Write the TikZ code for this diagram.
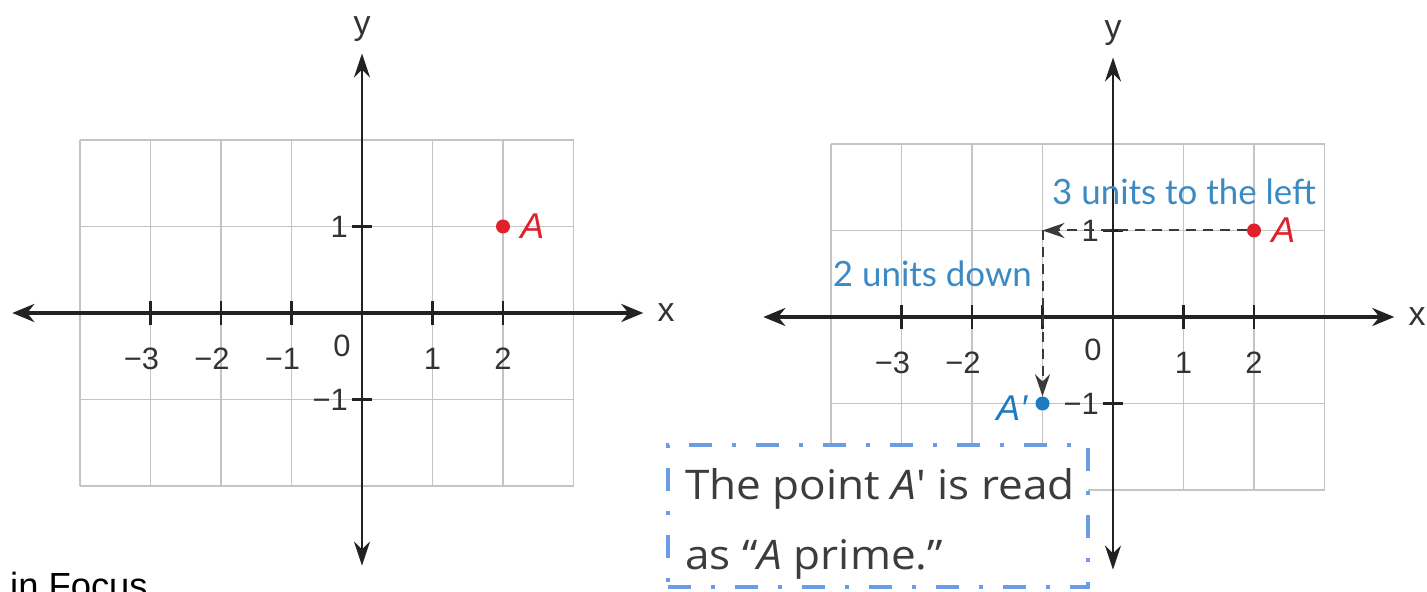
\documentclass[tikz,border=0pt]{standalone}
\usepackage{fontspec}
\setmainfont{Liberation Sans}
\newfontfamily\noteFont{Lato}
\newfontfamily\boxFont[FakeStretch=1.08]{Open Sans}
\usetikzlibrary{arrows.meta,positioning}

\begin{document}
\begin{tikzpicture}[x=1bp,y=1bp,
    gridline/.style={gridColour, line width=1.8bp},
    xaxisline/.style={axisColour, line width=3.5bp, {Stealth[length=22bp,width=18bp]}-{Stealth[length=22bp,width=18bp]}},
    yaxisline/.style={axisColour, line width=2.2bp, {Stealth[length=24bp,width=16bp]}-{Stealth[length=24bp,width=16bp]}},
    tickmark/.style={axisColour, line width=2.5bp},
    ticklabel/.style={text=tickColour, inner sep=0pt, font=\fontsize{31}{31}\selectfont},
    axislabel/.style={text=tickColour, inner sep=0pt, font=\fontsize{34}{34}\selectfont},
    dotmark/.style={circle, fill, inner sep=0pt, minimum size=14bp},
    pointlabel/.style={inner sep=0pt, font=\fontsize{36}{36}\selectfont\itshape},
    movearrow/.style={moveColour, line width=2bp, dash pattern=on 10bp off 7bp, -{Stealth[length=22bp,width=15bp]}},
    movelabel/.style={text=noteBlue, inner sep=0pt, font=\noteFont\fontsize{35}{35}\selectfont},
    notebox/.style={draw=boxBlue, fill=white, line width=4.5bp, dash pattern=on 23bp off 20bp on 4bp off 20bp, minimum width=420bp, minimum height=142bp, inner sep=0pt},
    notetext/.style={text=textGrey, inner sep=0pt, font=\boxFont\fontsize{41}{41}\selectfont}
]
    \def\unitX{70.5bp}
    \def\unitY{86.5bp}
    \definecolor{gridColour}{HTML}{C4C4C4}
    \definecolor{axisColour}{HTML}{222222}
    \definecolor{tickColour}{HTML}{333333}
    \definecolor{pointRed}{HTML}{E0202B}
    \definecolor{pointBlue}{HTML}{1E7BC0}
    \definecolor{noteBlue}{HTML}{3B8AC3}
    \definecolor{moveColour}{HTML}{3A3A3A}
    \definecolor{boxBlue}{HTML}{6B9CE6}
    \definecolor{textGrey}{HTML}{3C3C3C}

    % Canvas
    \useasboundingbox (0,0) rectangle (1427,592);
    \fill[white] (0,0) rectangle (1427,592);

    % Grid, axes and ticks shared by both planes
    \def\drawPlane{
        \draw[gridline, step=1] (-4,-2) grid (3,2);
        \coordinate (xlo) at (-4.96,0);
        \coordinate (xhi) at (3.99,0);
        \coordinate (ylo) at (0,-2.92);
        \coordinate (yhi) at (0,3);
        \draw[xaxisline] (xlo) -- (xhi);
        \draw[yaxisline] (ylo) -- (yhi);
        \node[axislabel, right=14bp of xhi] (xlabel) {x};
        \node[axislabel, above=12bp of yhi] (ylabel) {y};
        \foreach \x in {-3,-2,-1,1,2}
            \draw[tickmark] (\x,0) ++(0pt,12bp) -- ++(0pt,-24bp);
        \foreach \y in {-1,1}
            \draw[tickmark] (0,\y) ++(-10bp,0pt) -- ++(20bp,0pt);
        \foreach \n in {2,3}
            \node[ticklabel, anchor=north, yshift=-35bp] (xm\n) at (-\n,0) {\llap{−}\n};
        \foreach \n in {1,2}
            \node[ticklabel, anchor=north, yshift=-35bp] (xp\n) at (\n,0) {\n};
        \node[ticklabel] (zero) at (-20bp,-33bp) {0};
        \node[ticklabel, anchor=east, xshift=-14bp] (yp1) at (0,1) {1};
        \node[ticklabel, anchor=east, xshift=-14bp] (ym1) at (0,-1) {−1};
    }

    % Left plane: point A
    \begin{scope}[shift={(362,279)}, x=\unitX, y=\unitY, name prefix=L-]
        \drawPlane
        \node[ticklabel, anchor=north, yshift=-35bp] (xm1) at (-1,0) {\llap{−}1};
        \node[dotmark, pointRed] (A) at (2,1) {};
        \node[pointlabel, text=pointRed, right=10bp of A] (Alabel) {A};
    \end{scope}

    % Right plane: A moved 3 left and 2 down
    \begin{scope}[shift={(1113,275)}, x=\unitX, y=\unitY, name prefix=R-]
        \drawPlane
        \node[dotmark, pointRed] (A) at (2,1) {};
        \node[pointlabel, text=pointRed, right=10bp of A] (Alabel) {A};
        \coordinate (turn) at (-1,1);
        \node[dotmark, pointBlue] (Ap) at (-1,-1) {};
        \node[pointlabel, text=pointBlue, left=8bp of Ap, yshift=-5bp] (Aplabel) {A′};
        \draw[movearrow] (A) -- (turn);
        \draw[movearrow] (turn) -- (Ap);
        \node[movelabel, anchor=base west] (leftnote) at (-0.865,1.295) {3 units to the left};
        \node[movelabel, anchor=base east] (downnote) at (-1.149,0.347) {2 units down};
    \end{scope}

    % Note box
    \node[notebox] (note) at (878,76) {};
    \node[notetext, anchor=base west] (noteone) at (685,92) {The point \textit{A}′ is read};
    \node[notetext, anchor=base west] (notetwo) at (685,22) {as “\textit{A} prime.”};

    % Cut-off caption
    \node[anchor=base west, inner sep=0pt, font=\fontsize{36.5}{36.5}\selectfont] (focus) at (10,-7) {in Focus};

\end{tikzpicture}
\end{document}
